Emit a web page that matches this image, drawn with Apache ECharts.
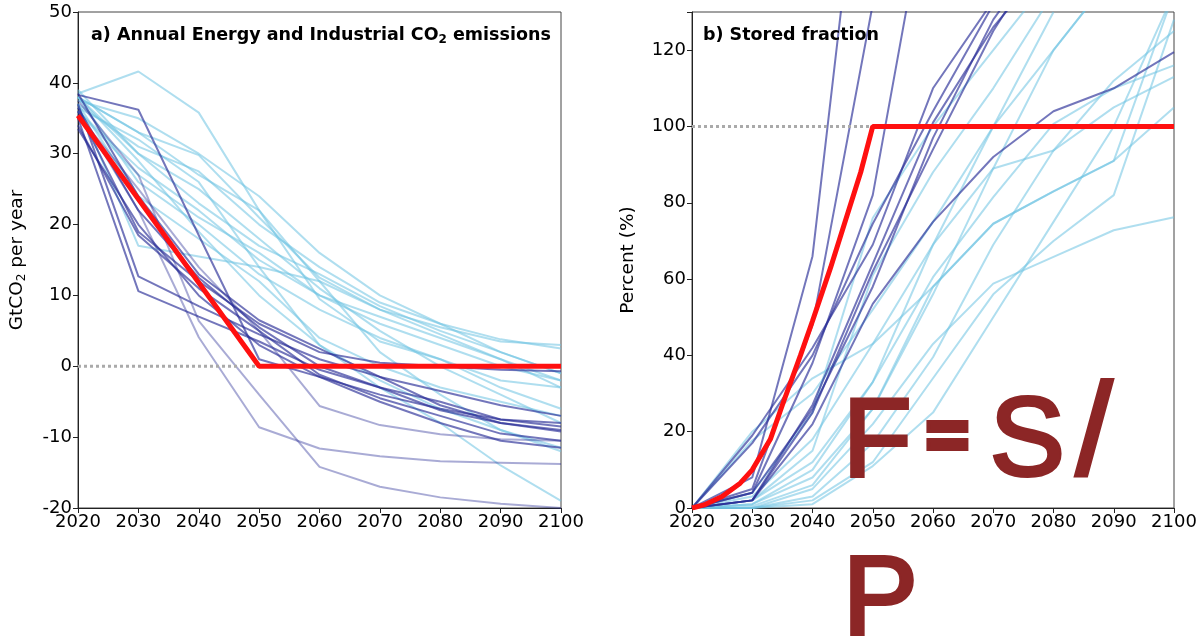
<!DOCTYPE html>
<html>
<head>
<meta charset="utf-8">
<script src="https://cdn.jsdelivr.net/npm/echarts@6/dist/echarts.min.js"></script>
<style>
html,body{margin:0;padding:0;background:#fff;}
#chart{width:1200px;height:637px;}
</style>
</head>
<body>
<div id="chart"></div>
<script>
// ---------- DATA ----------
const years = [2020, 2030, 2040, 2050, 2060, 2070, 2080, 2090, 2100];
const xTicks = [2020, 2030, 2040, 2050, 2060, 2070, 2080, 2090, 2100];
const emisTicks = [-20, -10, 0, 10, 20, 30, 40, 50];
const storedTicks = [0, 20, 40, 60, 80, 100, 120];

// Panel a: emissions (GtCO2/yr)
const emisDarkFaint = [
  [37.5, 27.0, 6.4, -4.0, -14.2, -17.0, -18.5, -19.4, -20.0],
  [36.0, 22.0, 4.1, -8.6, -11.6, -12.7, -13.4, -13.6, -13.8],
  [35.5, 25.0, 14.0, 5.0, -5.6, -8.3, -9.6, -10.3, -10.5]
];
const emisDark = [
  [38.3, 36.2, 18.5, 1.0, -1.5, -4.0, -6.0, -7.5, -8.5],
  [36.0, 19.0, 12.0, 6.0, 2.0, 0.5, 0.0, -0.5, -0.7],
  [37.0, 12.7, 8.5, 4.5, 1.0, -1.5, -3.5, -5.5, -7.0],
  [35.0, 10.6, 7.0, 3.5, -0.5, -3.0, -6.2, -8.0, -9.0],
  [34.0, 18.5, 11.0, 5.0, -1.2, -4.5, -7.0, -9.5, -10.5],
  [38.5, 24.0, 13.0, 6.5, 2.5, -1.5, -5.5, -8.0, -9.2],
  [36.5, 22.0, 12.5, 5.5, 0.0, -3.0, -5.0, -7.5, -8.0],
  [33.5, 20.0, 10.0, 3.0, -1.5, -5.0, -8.0, -10.5, -11.5]
];
const emisLight = [
  [38.5, 41.6, 35.8, 22.0, 9.5, 3.5, 1.0, -2.0, -3.0],
  [38.0, 33.0, 29.8, 21.0, 12.5, 8.0, 5.5, 3.5, 3.0],
  [37.0, 31.0, 27.5, 20.0, 14.0, 9.0, 6.0, 3.8, 2.5],
  [38.0, 30.0, 23.0, 17.0, 13.0, 8.5, 5.0, 2.0, -1.0],
  [37.0, 17.0, 15.5, 14.0, 12.0, 8.0, 4.5, 1.0, -3.0],
  [36.0, 28.0, 22.0, 15.0, 10.0, 7.0, 4.0, 1.0, -2.0],
  [38.0, 26.0, 20.0, 13.0, 8.0, 4.0, 1.0, -3.0, -6.0],
  [37.0, 24.0, 18.0, 12.0, 4.0, 0.0, -3.0, -5.0, -7.0],
  [36.5, 32.0, 26.0, 14.0, 3.0, -3.0, -8.0, -14.0, -19.0],
  [38.0, 33.0, 27.0, 22.0, 12.0, 2.0, -4.0, -9.0, -12.0],
  [39.0, 30.0, 25.0, 18.0, 11.0, 5.0, 0.0, -4.0, -8.0],
  [37.5, 35.0, 30.0, 24.0, 16.0, 10.0, 6.0, 2.0, -1.0],
  [36.0, 27.0, 21.0, 16.0, 10.0, 6.0, 3.0, 0.0, -2.0],
  [38.0, 29.0, 19.0, 10.0, 3.0, -2.0, -6.0, -9.0, -11.5]
];
const emisRefYears = [2020, 2050, 2100];
const emisRef = [35.4, 0, 0];
const emisZeroYears = [2020, 2050];
const emisZero = [0, 0];

// Panel b: stored fraction (%)
const storedDark = [
  [0, 8, 66, 202],
  [0, 5, 48, 132],
  [0, 4, 38, 82, 169],
  [0, 19, 42, 69, 110, 133],
  [0, 2, 27, 64, 101, 126, 145],
  [0, 17, 40, 74.5, 104, 132],
  [0, 4, 26, 58, 97, 128, 150],
  [0, 2, 25, 62, 94, 125, 150],
  [0, 2, 22, 53.5, 75, 92, 104, 110, 119.5]
];
const storedLight = [
  [0, 0, 5, 22, 43, 58.8, 65.8, 72.8, 76.2],
  [0, 0, 2, 12, 34, 56, 70, 82, 128],
  [0, 1, 8, 26, 58, 74.5, 83, 91, 135],
  [0, 2, 12, 33, 60.5, 81.5, 100.7, 110, 116],
  [0, 3, 18, 43, 69, 89, 93.7, 105, 113],
  [0, 20, 34, 43, 58, 74.5, 83, 91, 105],
  [0, 17.7, 30, 52, 75, 100, 120, 140],
  [0, 1, 10, 33, 69, 100, 130],
  [0, 0.5, 6, 26, 56, 89, 120, 140],
  [0, 0, 3, 17, 39.5, 69, 93.7, 112, 125],
  [0, 2, 15, 61, 88, 110, 135],
  [0, 4, 25, 76, 100, 120, 140],
  [0, 0, 1, 11, 25, 50, 75, 100, 135]
];
const storedRefYears = [2020, 2022, 2025, 2028, 2030, 2033, 2035, 2038, 2040, 2043, 2045, 2048, 2050, 2100];
const storedRef = [0, 0.8, 3, 6.5, 10, 18, 27, 40, 49, 63, 73, 88, 100, 100];
const storedFullYears = [2020, 2050];
const storedFull = [100, 100];

// ---------- CHART ----------
const chart = echarts.init(document.getElementById('chart'));
const FONT = 'DejaVu Sans';

function pairs(xs, ys) { return ys.map((v, i) => [xs[i], v]); }
function lineSeries(xs, ys, idx, color, width, z, extra) {
  return Object.assign({
    type: 'line', xAxisIndex: idx, yAxisIndex: idx,
    data: pairs(xs, ys), showSymbol: false, symbol: 'none', silent: true,
    lineStyle: { color: color, width: width }, z: z, clip: true, animation: false
  }, extra || {});
}

const LIGHT = 'rgba(110,195,226,0.55)';
const DARK = 'rgba(40,44,150,0.65)';
const DARKF = 'rgba(40,44,150,0.4)';
const RED = '#ff1010';
const DOT = { color: '#aaaaaa', width: 3, type: [3, 3] };

const series = [];
emisLight.forEach(s => series.push(lineSeries(years, s, 0, LIGHT, 2, 2)));
emisDarkFaint.forEach(s => series.push(lineSeries(years, s, 0, DARKF, 2, 3)));
emisDark.forEach(s => series.push(lineSeries(years, s, 0, DARK, 2, 3)));
series.push(lineSeries(emisZeroYears, emisZero, 0, '#aaa', 3, 4, { lineStyle: DOT }));
series.push(lineSeries(emisRefYears, emisRef, 0, RED, 5, 5));

storedLight.forEach(s => series.push(lineSeries(years, s, 1, LIGHT, 2, 2)));
storedDark.forEach(s => series.push(lineSeries(years, s, 1, DARK, 2, 3)));
series.push(lineSeries(storedFullYears, storedFull, 1, '#aaa', 3, 4, { lineStyle: DOT }));
series.push(lineSeries(storedRefYears, storedRef, 1, RED, 5, 5));

function xAxis(gi) {
  return {
    type: 'value', gridIndex: gi, min: 2020, max: 2100, interval: 10,
    axisLine: { show: true, onZero: false, lineStyle: { color: '#222', width: 1 } },
    axisTick: { show: true, length: 5, lineStyle: { color: '#222' } },
    axisLabel: { color: '#000', fontSize: 18, fontFamily: FONT, margin: 5,
      formatter: v => xTicks.includes(v) ? String(v) : '' },
    splitLine: { show: false }
  };
}
function yAxis(gi, min, max, interval, ticks, name, gap) {
  return {
    type: 'value', gridIndex: gi, min: min, max: max, interval: interval,
    axisLine: { show: true, lineStyle: { color: '#222', width: 1 } },
    axisTick: { show: true, length: 5, lineStyle: { color: '#222' } },
    axisLabel: { color: '#000', fontSize: 18, fontFamily: FONT, margin: 6,
      formatter: v => ticks.includes(v) ? String(v) : '' },
    splitLine: { show: false },
    name: name, nameLocation: 'middle', nameGap: gap, nameRotate: 90,
    nameTextStyle: { color: '#000', fontSize: 18.5, fontFamily: FONT,
      rich: { s: { fontSize: 12, fontFamily: FONT, color: '#000', padding: [9, 0, 0, 0] } } }
  };
}

const handColor = '#8c2626';
function hand(t, x, y, size, lw) {
  return { type: 'text', x: x, y: y, z: 100,
    style: { text: t, font: 'normal ' + size + 'px "Liberation Sans"', fill: handColor,
      stroke: handColor, lineWidth: lw, lineJoin: 'round', lineCap: 'round', textVerticalAlign: 'top' } };
}

const option = {
  animation: false,
  backgroundColor: '#fff',
  grid: [
    { left: 78, right: 639, top: 12, bottom: 129, show: true, borderColor: '#444', borderWidth: 1, backgroundColor: 'transparent' },
    { left: 692, right: 26, top: 12, bottom: 129, show: true, borderColor: '#444', borderWidth: 1, backgroundColor: 'transparent' }
  ],
  title: [
    { text: '{b|a) Annual Energy and Industrial CO}{s|2}{b| emissions}', left: 91, top: 24, padding: 0,
      textStyle: { rich: {
        b: { fontFamily: FONT, fontWeight: 'bold', fontSize: 17.5, color: '#000' },
        s: { fontFamily: FONT, fontSize: 12, color: '#000', padding: [10, 0, 0, 0] } } } },
    { text: 'b) Stored fraction', left: 703, top: 26, padding: 0,
      textStyle: { fontFamily: FONT, fontWeight: 'bold', fontSize: 17.5, color: '#000' } }
  ],
  xAxis: [xAxis(0), xAxis(1)],
  yAxis: [
    yAxis(0, -20, 50, 10, emisTicks, 'GtCO{s|2} per year', 50),
    yAxis(1, 0, 130, 20, storedTicks, 'Percent (%)', 54)
  ],
  series: series,
  graphic: [
    hand('F', 843, 389, 112, 4),
    hand('=', 927, 405, 70, 8),
    hand('S', 990, 388, 112, 4),
    hand('/', 1076, 373, 130, 4),
    hand('P', 843, 547, 112, 4)
  ]
};
chart.setOption(option);
</script>
</body>
</html>
